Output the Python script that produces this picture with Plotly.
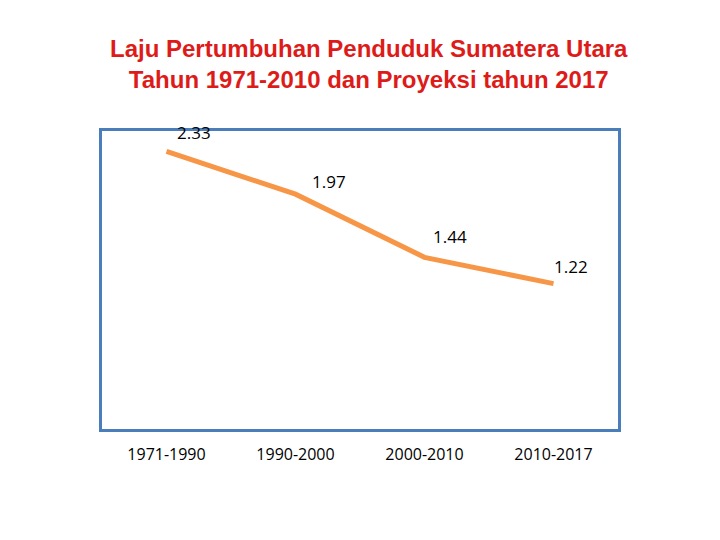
import plotly.graph_objects as go

categories = ["1971-1990", "1990-2000", "2000-2010", "2010-2017"]
values = [2.33, 1.97, 1.44, 1.22]
labels = ["2.33", "1.97", "1.44", "1.22"]
label_dx = [27, 33, 25, 17]
label_dy = [19, 13, 21, 17]

fig = go.Figure()
fig.add_trace(go.Scatter(
    x=categories, y=values, mode="lines",
    line=dict(color="#F79646", width=5),
    hoverinfo="skip", showlegend=False,
))

for c, v, t, dx, dy in zip(categories, values, labels, label_dx, label_dy):
    fig.add_annotation(x=c, y=v, text=t, showarrow=False,
                       xshift=dx, yshift=dy,
                       font=dict(family="Open Sans, DejaVu Sans", size=17, color="#000000"))

fig.update_layout(
    width=720, height=540,
    margin=dict(l=94, r=110, t=123, b=119),
    paper_bgcolor="white", plot_bgcolor="white",
    title=dict(
        text="<b>Laju Pertumbuhan Penduduk Sumatera Utara<br>Tahun 1971-2010 dan Proyeksi tahun 2017</b>",
        x=0.501, xanchor="center", y=0.909, yanchor="middle",
        font=dict(family="Liberation Sans, Arial", size=24, color="#DD1C1A"),
    ),
)
fig.update_xaxes(
    type="category", range=[-0.5, 3.5],
    showline=True, mirror=True, linecolor="#4A7EBB", linewidth=3,
    showgrid=False, zeroline=False, ticks="",
    ticklabelstandoff=9,
    tickfont=dict(family="Open Sans, DejaVu Sans", size=16, color="#000000"),
)
fig.update_yaxes(
    range=[0, 2.5],
    showline=True, mirror=True, linecolor="#4A7EBB", linewidth=3,
    showgrid=False, zeroline=False, showticklabels=False, ticks="",
)

fig.write_html("out.html")
